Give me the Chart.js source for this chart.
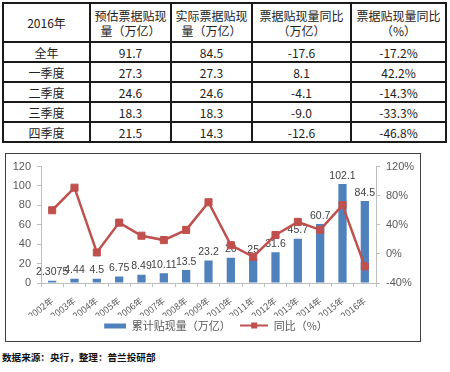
<!DOCTYPE html>
<html lang="zh-CN">
<head>
<meta charset="UTF-8">
<title>票据贴现量</title>
<script src="https://cdn.jsdelivr.net/npm/chart.js"></script>
<style>
    body { margin: 0; background: #fff; font-family: "Noto Sans CJK SC", sans-serif; }
    .tbl {
        position: absolute; left: 2px; top: 2px;
        border-collapse: collapse; table-layout: fixed;
        border: 2px solid #1a1a1a; font-size: 12px; color: #222;
    }
    .tbl td { border: 2px solid #1a1a1a; text-align: center; padding: 0; line-height: 15px; }
    .tbl tr.head td { height: 37px; }
    .tbl tr.row td { height: 18px; }
    .chart-box {
        position: absolute; left: 5px; top: 153px;
        width: 414px; height: 187px; border: 1px solid #404040;
    }
    .source { position: absolute; left: 2px; top: 350px; font-size: 9.6px; font-weight: bold; color: #111; }
</style>
</head>
<body>
<table class="tbl" id="tbl">
    <colgroup>
        <col style="width:87px"><col style="width:81px"><col style="width:81px"><col style="width:99px"><col style="width:95px">
    </colgroup>
</table>
<div class="chart-box"><canvas id="chart"></canvas></div>
<div class="source">数据来源：央行，整理：普兰投研部</div>

<script>
// table data
const tableHead = ['2016年', '预估票据贴现<br>量（万亿）', '实际票据贴现<br>量（万亿）', '票据贴现量同比<br>（万亿）', '票据贴现量同比<br>（%）'];
const periods = ['全年', '一季度', '二季度', '三季度', '四季度'];
const estimated = ['91.7', '27.3', '24.6', '18.3', '21.5'];
const actual = ['84.5', '27.3', '24.6', '18.3', '14.3'];
const yoyAmount = ['-17.6', '8.1', '-4.1', '-9.0', '-12.6'];
const yoyPercent = ['-17.2%', '42.2%', '-14.3%', '-33.3%', '-46.8%'];

// chart data
const years = ['2002年', '2003年', '2004年', '2005年', '2006年', '2007年', '2008年', '2009年',
               '2010年', '2011年', '2012年', '2013年', '2014年', '2015年', '2016年'];
const volume = [2.3075, 4.44, 4.5, 6.75, 8.49, 10.11, 13.5, 23.2, 26, 25, 31.6, 45.7, 60.7, 102.1, 84.5];
const yoy = [60, 91, 2, 43, 25, 19, 33, 71, 12, -4, 26, 44, 33, 67, -17.2];

const barColor = '#4F81BD';
const lineColor = '#C0504D';
const tickColor = '#595959';

// build the table
const tbl = document.getElementById('tbl');
let html = '<tr class="head">' + tableHead.map(h => '<td>' + h + '</td>').join('') + '</tr>';
periods.forEach((p, i) => {
    html += '<tr class="row"><td>' + p + '</td><td>' + estimated[i] + '</td><td>' + actual[i] +
            '</td><td>' + yoyAmount[i] + '</td><td>' + yoyPercent[i] + '</td></tr>';
});
tbl.insertAdjacentHTML('beforeend', html);

// little legend images
function swatch(kind) {
    const c = document.createElement('canvas');
    c.width = 28; c.height = 10;
    const g = c.getContext('2d');
    if (kind === 'bar') {
        g.fillStyle = barColor;
        g.fillRect(6, 3, 22, 5);
    } else {
        g.strokeStyle = lineColor;
        g.lineWidth = 2;
        g.beginPath(); g.moveTo(0, 5); g.lineTo(28, 5); g.stroke();
        g.fillStyle = lineColor;
        g.fillRect(11, 2, 6, 6);
    }
    return c;
}

// value labels above the bars, drawn before the line
const barLabels = {
    id: 'barLabels',
    afterDatasetDraw(chart, args) {
        if (args.index !== 0) return;
        const ctx = chart.ctx;
        ctx.save();
        ctx.font = '10.5px "Liberation Sans", sans-serif';
        ctx.fillStyle = '#404040';
        ctx.textAlign = 'center';
        ctx.textBaseline = 'bottom';
        args.meta.data.forEach((bar, i) => ctx.fillText(String(volume[i]), bar.x, bar.y - 3));
        ctx.restore();
    }
};

const tickFont = { family: '"Liberation Sans", sans-serif', size: 11 };

new Chart(document.getElementById('chart'), {
    type: 'bar',
    data: {
        labels: years,
        datasets: [
            {
                label: '累计贴现量（万亿）',
                data: volume,
                backgroundColor: barColor,
                yAxisID: 'y',
                order: 2,
                categoryPercentage: 1,
                barPercentage: 0.37
            },
            {
                type: 'line',
                label: '同比（%）',
                data: yoy,
                borderColor: lineColor,
                backgroundColor: lineColor,
                borderWidth: 2.5,
                pointStyle: 'rect',
                pointRadius: 5,
                pointBorderWidth: 1,
                tension: 0,
                yAxisID: 'y1',
                order: 1
            }
        ]
    },
    options: {
        responsive: true,
        maintainAspectRatio: false,
        animation: false,
        layout: { padding: { top: 8, left: 0, right: 0, bottom: 0 } },
        plugins: {
            tooltip: { enabled: false },
            legend: {
                position: 'bottom',
                labels: {
                    usePointStyle: true,
                    pointStyleWidth: 28,
                    boxHeight: 10,
                    padding: 4,
                    color: tickColor,
                    font: { family: '"Noto Sans CJK SC", sans-serif', size: 11 },
                    // extra ideographic space widens the gap between the two items
                    generateLabels: chart => chart.data.datasets.map((ds, i) => ({
                        text: i === 0 ? ds.label + '　' : ds.label,
                        pointStyle: swatch(i === 0 ? 'bar' : 'line'),
                        fillStyle: i === 0 ? barColor : lineColor,
                        strokeStyle: 'transparent',
                        lineWidth: 0,
                        hidden: false,
                        datasetIndex: i,
                        fontColor: tickColor
                    }))
                }
            }
        },
        scales: {
            x: {
                offset: true,
                border: { display: true, color: '#bfbfbf' },
                grid: { display: true, offset: true, drawOnChartArea: false, tickLength: 4, color: '#bfbfbf' },
                ticks: {
                    autoSkip: false, minRotation: 38, maxRotation: 38, padding: 8,
                    color: tickColor, font: { family: '"Noto Sans CJK SC", sans-serif', size: 9 }
                },
                afterFit: s => { s.height = 33; }
            },
            y: {
                position: 'left',
                min: 0, max: 120,
                border: { display: true, color: '#bfbfbf' },
                grid: { drawOnChartArea: false, tickLength: 4, color: '#bfbfbf' },
                ticks: { stepSize: 20, padding: 6, color: tickColor, font: tickFont },
                afterFit: s => { s.width = 35; }
            },
            y1: {
                position: 'right',
                min: -40, max: 120,
                border: { display: true, color: '#bfbfbf' },
                grid: { drawOnChartArea: false, tickLength: 4, color: '#bfbfbf' },
                ticks: { stepSize: 40, padding: 6, color: tickColor, font: tickFont, callback: v => v + '%' },
                afterFit: s => { s.width = 44; }
            }
        }
    },
    plugins: [barLabels]
});
</script>
</body>
</html>
